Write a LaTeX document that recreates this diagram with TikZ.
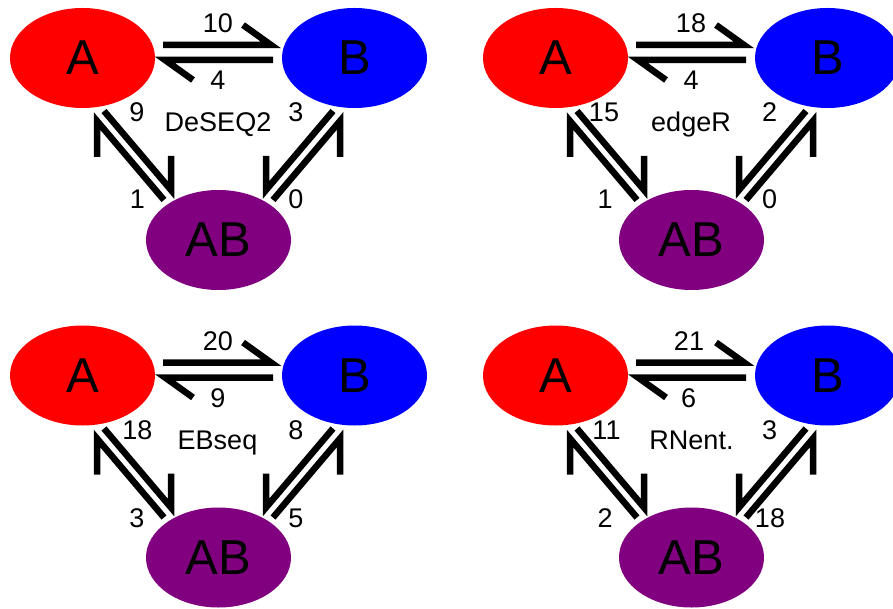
\documentclass[tikz,border=0pt]{standalone}
\usepackage{fontspec}
\setmainfont{Liberation Sans}
\usetikzlibrary{shapes.geometric}
\definecolor{ared}{RGB}{255,0,0}
\definecolor{bblue}{RGB}{0,0,255}
\definecolor{abpurple}{RGB}{128,0,128}
\tikzset{
 ell/.style={ellipse, minimum width=145pt, minimum height=100pt, inner sep=0pt, font=\fontsize{49}{49}\selectfont},
 harp/.style={line width=6.5pt, line cap=butt, line join=miter},
 num/.style={anchor=base, inner sep=0pt, font=\fontsize{27}{27}\selectfont},
}
\newcommand\panelshapes[1]{%
 \node[ell,fill=ared] (#1A) at (82.5,58) {A};
 \node[ell,fill=bblue] (#1B) at (354.5,58) {B};
 \node[ell,fill=abpurple] (#1AB) at (218.5,240) {AB};
 \coordinate (#1u0) at (163,45); \coordinate (#1u1) at (271,45); \coordinate (#1u2) at (243,25);
 \coordinate (#1l0) at (273,60); \coordinate (#1l1) at (165,60); \coordinate (#1l2) at (193,80);
 \coordinate (#1a0) at (104,111); \coordinate (#1a1) at (171,190); \coordinate (#1a2) at (171,156);
 \coordinate (#1b0) at (164,200); \coordinate (#1b1) at (97,121); \coordinate (#1b2) at (97,157);
 \coordinate (#1c0) at (333,111); \coordinate (#1c1) at (266,190); \coordinate (#1c2) at (266,156);
 \coordinate (#1d0) at (273,200); \coordinate (#1d1) at (340,121); \coordinate (#1d2) at (340,157);
 \draw[harp] (#1u0) -- (#1u1) -- (#1u2);
 \draw[harp] (#1l0) -- (#1l1) -- (#1l2);
 \draw[harp] (#1a0) -- (#1a1) -- (#1a2);
 \draw[harp] (#1b0) -- (#1b1) -- (#1b2);
 \draw[harp] (#1c0) -- (#1c1) -- (#1c2);
 \draw[harp] (#1d0) -- (#1d1) -- (#1d2);
}
\begin{document}
\begin{tikzpicture}[x=1pt,y=-1pt]
\useasboundingbox (0,0) rectangle (893,609);
% panel 1: DeSEQ2
\begin{scope}
 \panelshapes{p1}
 \node[num] (p1t) at (218,33) {10};
 \node[num] (p1b) at (218,90) {4};
 \node[num] (p1lt) at (137,122) {9};
 \node[num] (p1lb) at (137.5,209) {1};
 \node[num] (p1rt) at (296,122) {3};
 \node[num] (p1rb) at (296,209) {0};
 \node[num] (p1c) at (218,132) {DeSEQ2};
\end{scope}
% panel 2: edgeR
\begin{scope}[shift={(473,0)}]
 \panelshapes{p2}
 \node[num] (p2t) at (218,33) {18};
 \node[num] (p2b) at (218,90) {4};
 \node[num] (p2lt) at (131,122) {15};
 \node[num] (p2lb) at (132,209) {1};
 \node[num] (p2rt) at (296.5,122) {2};
 \node[num] (p2rb) at (296.5,209) {0};
 \node[num] (p2c) at (218,132) {edgeR};
\end{scope}
% panel 3: EBseq
\begin{scope}[shift={(0,317.5)}]
 \panelshapes{p3}
 \node[num] (p3t) at (218,33) {20};
 \node[num] (p3b) at (218,90) {9};
 \node[num] (p3lt) at (137.5,122) {18};
 \node[num] (p3lb) at (137,209.5) {3};
 \node[num] (p3rt) at (296,122) {8};
 \node[num] (p3rb) at (296,209.5) {5};
 \node[num] (p3c) at (217.5,132) {EBseq};
\end{scope}
% panel 4: RNent.
\begin{scope}[shift={(473,317.5)}]
 \panelshapes{p4}
 \node[num] (p4t) at (216,33) {21};
 \node[num] (p4b) at (215.5,90) {6};
 \node[num] (p4lt) at (133.5,122) {11};
 \node[num] (p4lb) at (132,209.5) {2};
 \node[num] (p4rt) at (296.5,122) {3};
 \node[num] (p4rb) at (297,209.5) {18};
 \node[num] (p4c) at (218.5,132) {RNent.};
\end{scope}
\end{tikzpicture}
\end{document}
